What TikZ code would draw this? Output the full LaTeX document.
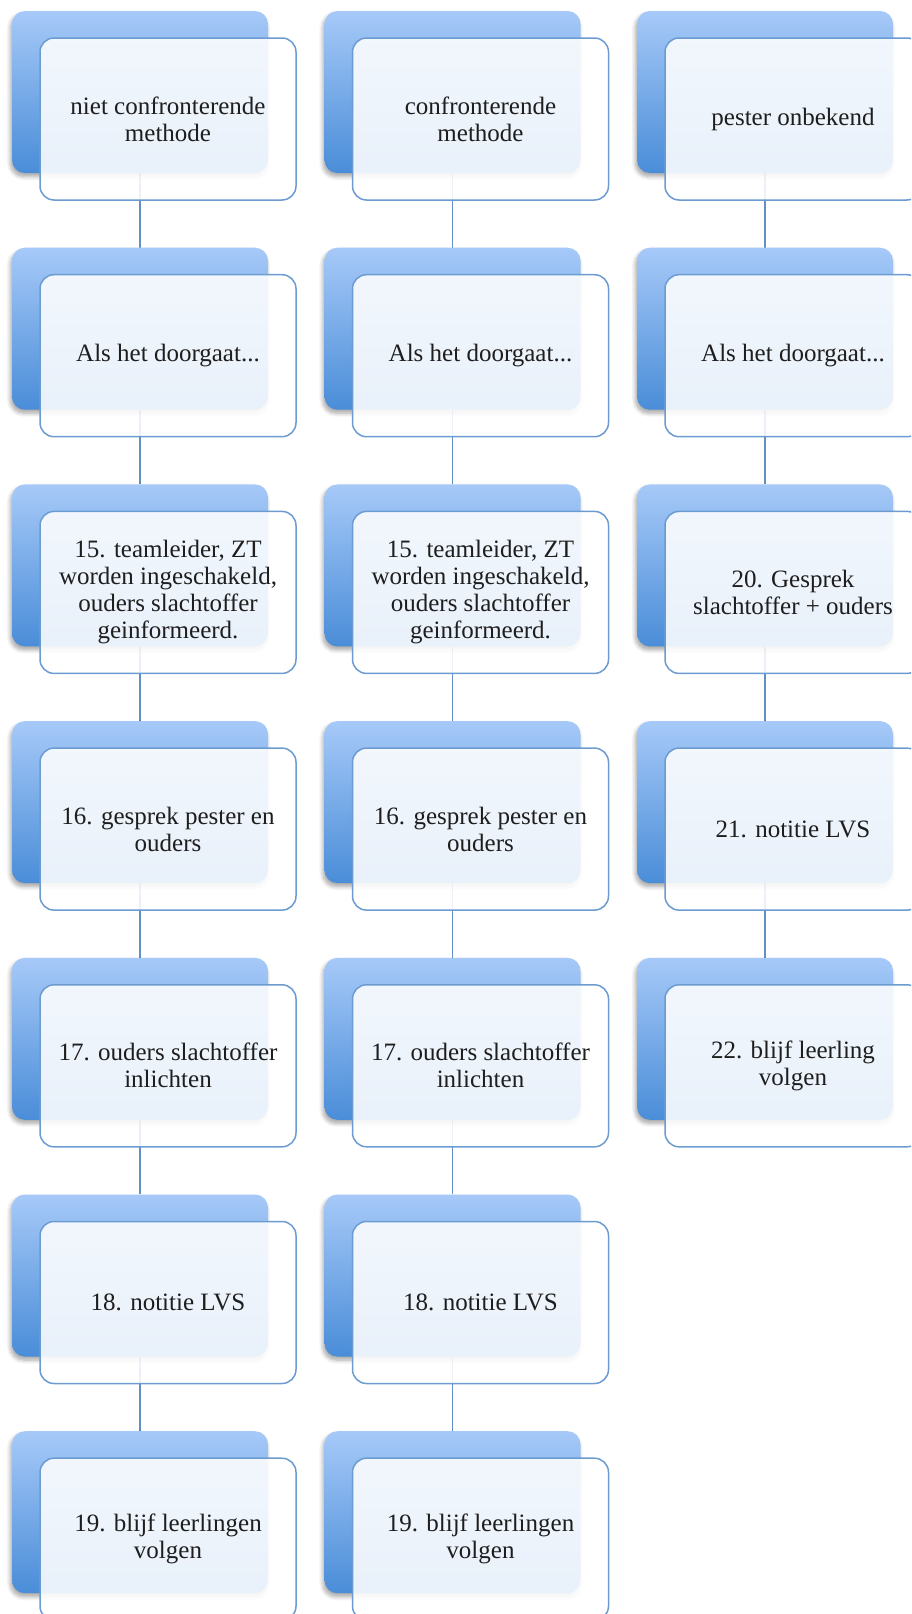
\documentclass[tikz,border=0pt]{standalone}
\usepackage{fontspec}
\setmainfont{Liberation Serif}
\usetikzlibrary{shadows.blur,backgrounds}
\definecolor{backtop}{HTML}{A6C9F8}
\definecolor{backbot}{HTML}{4A8DD8}
\definecolor{edgecol}{HTML}{6B9BD0}
\definecolor{linkcol}{HTML}{6390C4}
\definecolor{inkcol}{HTML}{1E1E1E}
\tikzset{
 backbox/.style={rectangle, rounded corners=13pt, minimum width=256pt, minimum height=162pt,
   top color=backtop, bottom color=backbot, draw=none,
   blur shadow={shadow xshift=-1.5pt, shadow yshift=-3.5pt, shadow opacity=35, shadow blur steps=6, shadow blur radius=4pt}},
 frontbox/.style={rectangle, rounded corners=14pt, minimum width=256pt, minimum height=162pt,
   draw=edgecol, line width=1.5pt, fill=white, fill opacity=0.88, text opacity=1, text=inkcol,
   align=center, font=\fontsize{25}{27}\selectfont},
 linkline/.style={draw=linkcol, line width=1.5pt}
}
\newcommand\card[4]{%
  \node[backbox] (b#1) at (#2,#3) {};
  \node[frontbox] (f#1) at (#2+28,#3+27) {#4};}
\begin{document}
\begin{tikzpicture}[x=1pt,y=-1pt]
\useasboundingbox (0,0) rectangle (911,1614);
\clip (0,0) rectangle (911,1614);
% column 1
\card{11}{140}{92}{niet confronterende\\methode}
\card{12}{140}{328.7}{Als het doorgaat...}
\card{13}{140}{565.4}{15. teamleider, ZT\\worden ingeschakeld,\\ouders slachtoffer\\geinformeerd.}
\card{14}{140}{802.1}{16. gesprek pester en\\ouders}
\card{15}{140}{1038.8}{17. ouders slachtoffer\\inlichten}
\card{16}{140}{1275.5}{18. notitie LVS}
\card{17}{140}{1512.2}{19. blijf leerlingen\\volgen}
% column 2
\card{21}{452.5}{92}{confronterende\\methode}
\card{22}{452.5}{328.7}{Als het doorgaat...}
\card{23}{452.5}{565.4}{15. teamleider, ZT\\worden ingeschakeld,\\ouders slachtoffer\\geinformeerd.}
\card{24}{452.5}{802.1}{16. gesprek pester en\\ouders}
\card{25}{452.5}{1038.8}{17. ouders slachtoffer\\inlichten}
\card{26}{452.5}{1275.5}{18. notitie LVS}
\card{27}{452.5}{1512.2}{19. blijf leerlingen\\volgen}
% column 3
\card{31}{765}{92}{pester onbekend}
\card{32}{765}{328.7}{Als het doorgaat...}
\card{33}{765}{565.4}{20. Gesprek\\slachtoffer + ouders}
\card{34}{765}{802.1}{21. notitie LVS}
\card{35}{765}{1038.8}{22. blijf leerling\\volgen}
\begin{scope}[on background layer]
\foreach \c in {1,2}{
  \foreach \r [evaluate=\r as \n using int(\r+1)] in {1,...,6}{
    \draw[linkline] (b\c\r.south) -- (b\c\n.north);
  }
}
\foreach \r [evaluate=\r as \n using int(\r+1)] in {1,...,4}{
  \draw[linkline] (b3\r.south) -- (b3\n.north);
}
\end{scope}
\end{tikzpicture}
\end{document}
